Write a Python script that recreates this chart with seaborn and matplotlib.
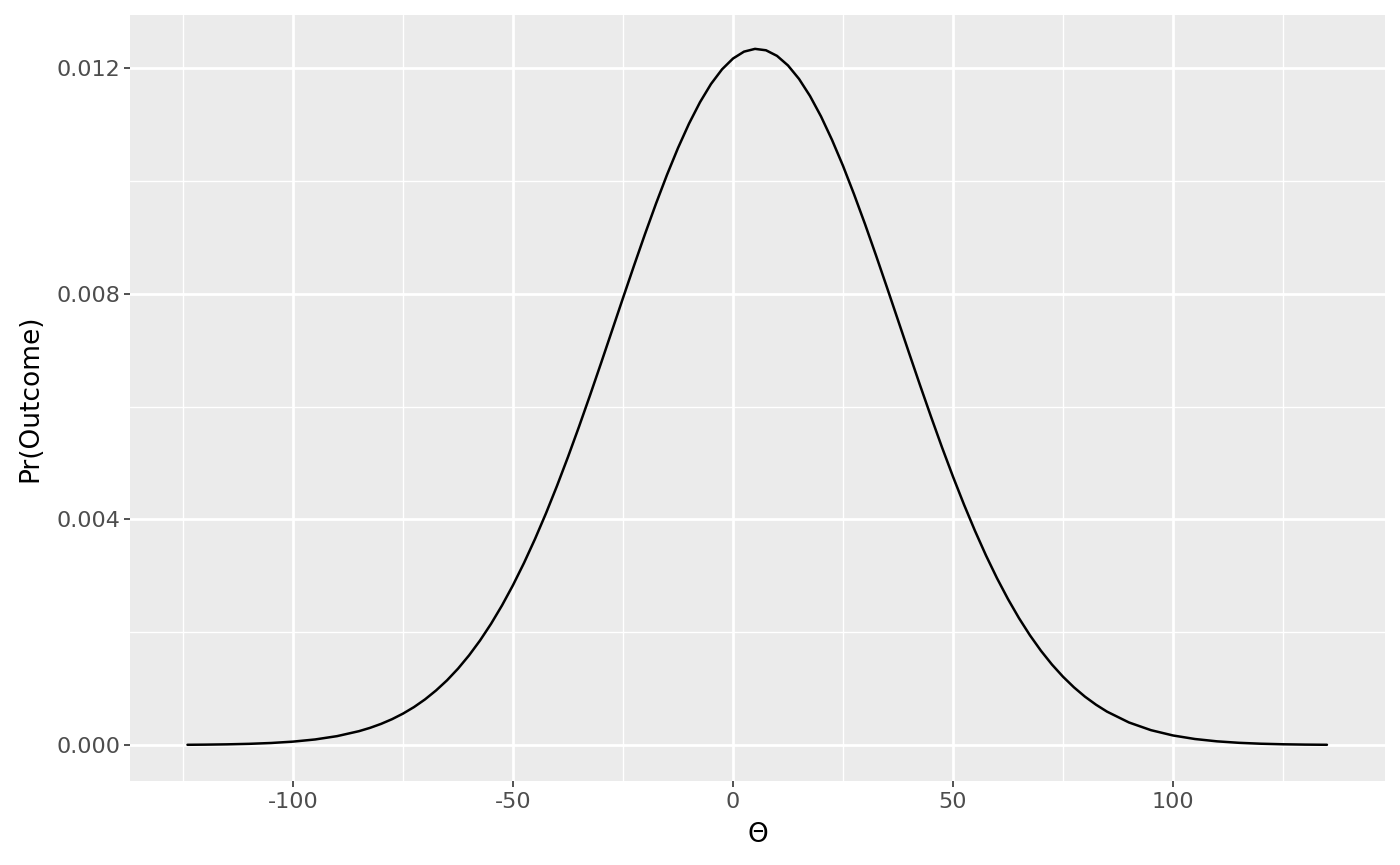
import matplotlib

matplotlib.use("Agg")
import matplotlib.pyplot as plt
import pandas as pd
import seaborn as sns
from matplotlib.ticker import FixedLocator

# %%
# values
theta = [
    -124, -120, -115, -110, -105, -100, -95, -90, -85, -82.5, -80, -77.5, -75,
    -72.5, -70, -67.5, -65, -62.5, -60, -57.5, -55, -52.5, -50, -47.5, -45,
    -42.5, -40, -37.5, -35, -32.5, -30, -27.5, -25, -22.5, -20, -17.5, -15,
    -12.5, -10, -7.5, -5, -2.5, 0, 2.5, 5, 7.5, 10, 12.5, 15, 17.5, 20, 22.5,
    25, 27.5, 30, 32.5, 35, 37.5, 40, 42.5, 45, 47.5, 50, 52.5, 55, 57.5, 60,
    62.5, 65, 67.5, 70, 72.5, 75, 77.5, 80, 82.5, 85, 90, 95, 100, 105, 110,
    115, 120, 125, 130, 135,
]
prob = [
    0.0000040, 0.0000066, 0.0000119, 0.0000209, 0.0000358, 0.0000601, 0.0000984,
    0.0001573, 0.0002457, 0.0003042, 0.0003744, 0.000458, 0.000557,
    0.000673, 0.000809, 0.000967, 0.001147, 0.001354, 0.001589, 0.001853,
    0.002148, 0.002475, 0.002835, 0.003228, 0.003653,
    0.004109, 0.004595, 0.005108, 0.005644, 0.006199, 0.006768, 0.007346,
    0.007925, 0.008498, 0.009058, 0.009597, 0.010108,
    0.010583, 0.011014, 0.011394, 0.011717, 0.011976, 0.012168, 0.012290,
    0.012339, 0.012314, 0.012215, 0.012045, 0.011807, 0.011504, 0.011142,
    0.010726, 0.010266, 0.009764, 0.009234, 0.008679, 0.008109, 0.007531,
    0.006952, 0.006380, 0.005821, 0.005277, 0.004757, 0.004262, 0.003796,
    0.003360, 0.002957, 0.002587, 0.002249, 0.001944, 0.001670, 0.001426,
    0.001211, 0.001022, 0.000857, 0.000715, 0.000592, 0.0003996, 0.0002632,
    0.0001693, 0.0001063, 0.0000652, 0.0000390, 0.0000228, 0.0000130,
    0.0000072, 0.0000039,
]
x_ticks = [-100, -50, 0, 50, 100]
y_ticks = [0.000, 0.004, 0.008, 0.012]
y_labels = ["0.000", "0.004", "0.008", "0.012"]

df = pd.DataFrame({"theta": theta, "prob": prob})

# %%
sns.set_theme(
    style="darkgrid",
    rc={
        "axes.facecolor": "#EBEBEB",
        "grid.color": "white",
        "xtick.bottom": True,
        "ytick.left": True,
        "xtick.color": "#333333",
        "ytick.color": "#333333",
        "xtick.labelcolor": "#4D4D4D",
        "ytick.labelcolor": "#4D4D4D",
        "xtick.major.size": 4,
        "ytick.major.size": 4,
        "xtick.major.width": 1.2,
        "ytick.major.width": 1.2,
    },
)
plt.rcParams["font.family"] = ["DejaVu Sans"]

fig = plt.figure(figsize=(14, 8.65), dpi=100)
ax = fig.add_axes([0.0929, 0.0971, 0.8964, 0.8856])

sns.lineplot(data=df, x="theta", y="prob", color="black", linewidth=1.8, ax=ax)

ax.set_xlim(-137.05, 148.2)
ax.set_ylim(-0.000638, 0.01294)
ax.set_xticks(x_ticks)
ax.set_xticklabels([str(t) for t in x_ticks])
ax.set_yticks(y_ticks)
ax.set_yticklabels(y_labels)
ax.xaxis.set_minor_locator(FixedLocator([-125, -75, -25, 25, 75, 125]))
ax.yaxis.set_minor_locator(FixedLocator([0.002, 0.006, 0.010]))
ax.grid(which="major", color="white", linewidth=2.0)
ax.grid(which="minor", color="white", linewidth=1.0)
ax.tick_params(axis="x", which="major", labelsize=16, pad=4)
ax.tick_params(axis="y", which="major", labelsize=16, pad=3)
ax.tick_params(axis="both", which="minor", length=0)

ax.set_xlabel("Θ", fontsize=19, color="black", labelpad=7)
ax.set_ylabel("Pr(Outcome)", fontsize=19, color="black", labelpad=9)
for spine in ax.spines.values():
    spine.set_visible(False)

fig.savefig("out.png", dpi=100, facecolor="white")
